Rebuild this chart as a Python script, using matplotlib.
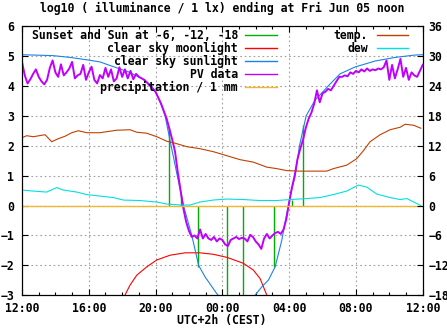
import matplotlib
matplotlib.use("Agg")
import matplotlib.pyplot as plt
import numpy as np

# all times are hours after Thu 12:00 (UTC+2h)
X_TICKS = [0, 4, 8, 12, 16, 20, 24]
X_TICKLABELS = ["12:00", "16:00", "20:00", "00:00", "04:00", "08:00", "12:00"]

# PV sensor, log10(lx), 10 minute samples from 12:00
pv_data = [4.80, 4.35, 4.08, 4.22, 4.40, 4.55, 4.30, 4.15, 4.05, 4.20,
           4.60, 4.85, 4.45, 4.30, 4.72, 4.35, 4.45, 4.58, 4.80, 4.25,
           4.35, 4.40, 4.70, 4.20, 4.45, 4.64, 4.20, 4.08, 4.36,
           4.25, 4.60, 4.30, 4.55, 4.15, 4.25, 4.62, 4.30, 4.55, 4.25,
           4.50, 4.22, 4.40, 4.30, 4.25, 4.20, 4.10, 4.00, 3.90, 3.80,
           3.60, 3.40, 3.15, 2.90, 2.55, 2.20, 1.80, 1.10, 0.50, -0.10,
           -0.55, -0.85, -1.05,
           -1.00, -1.10, -0.80, -1.10, -0.95, -1.10, -1.15, -1.05, -1.20, -1.10,
           -1.15, -1.30, -1.35, -1.15, -1.10, -1.05, -1.12, -1.08, -1.10, -1.20,
           -0.98, -1.05, -1.20, -1.30, -1.45, -1.10, -0.95, -1.10, -1.00, -0.92,
           -0.88, -0.95, -0.80, -0.45,
           0.10, 0.60, 1.00, 1.55, 1.90, 2.20, 2.60, 2.90, 3.10, 3.40,
           3.85, 3.45, 3.75, 3.80, 3.90, 3.85, 4.00, 4.15, 4.30,
           4.30, 4.35, 4.32, 4.45, 4.40, 4.50, 4.45, 4.55, 4.48, 4.58,
           4.50, 4.55, 4.52, 4.58, 4.55, 4.62, 4.85, 4.20, 4.70, 4.25,
           4.55, 4.90, 4.30, 4.60, 4.20, 4.45, 4.35, 4.30, 4.50, 4.70]
pv_hours = np.arange(len(pv_data)) / 6.0

# clear sky sunlight model
sun_hours = [0, 1.86, 2.88, 3.88, 4.67, 5.17, 6.37, 7.17, 7.67, 7.95, 8.25, 8.57,
             8.93, 9.3, 9.67, 10.17, 10.58, 10.96, 11.66, 12.0, 12.81, 13.6,
             13.96, 14.36, 14.76, 15.16, 15.56, 15.86, 16.1, 16.36, 16.62, 17.02,
             17.55, 18.35, 19.05, 19.95, 21.15, 22.35, 23.55, 24.0]
sun_clear = [5.04, 5.01, 4.95, 4.87, 4.80, 4.70, 4.47, 4.25, 4.05, 3.85, 3.50, 3.00,
             2.00, 1.00, 0.00, -1.00, -2.00, -2.38, -2.94, -3.15, -3.40, -3.15,
             -3.00, -2.72, -2.49, -2.05, -1.16, -0.26, 0.40, 1.00, 2.00, 3.00,
             3.52, 4.00, 4.40, 4.63, 4.83, 4.95, 5.03, 5.04]

# clear sky moonlight model
moon_hours = [5.9, 6.17, 6.47, 6.87, 7.47, 8.07, 8.87, 9.77, 10.66, 11.46,
              12.26, 13.26, 13.86, 14.26, 14.66, 14.8]
moon_clear = [-3.3, -2.99, -2.66, -2.33, -2.05, -1.82, -1.66, -1.58, -1.58, -1.63,
              -1.73, -1.93, -2.16, -2.44, -2.99, -3.3]

# sunset / sun at -6, -12, -18 deg, then the same in the morning
event_hours = [8.83, 9.55, 10.56, 12.30, 13.26, 15.12, 16.16, 16.85]
event_level = [2.63, 0.40, -2.05, -3.50, -3.50, -2.05, 0.20, 2.68]

# precipitation / 1 mm
rain_hours = [0, 24]
rain = [0.0, 0.0]

# temperature and dew point, deg C (right axis)
temp_hours = [0, 0.28, 0.68, 1.38, 1.78, 2.17, 2.58, 2.98, 3.37, 3.88, 4.67, 5.67,
              6.47, 6.87, 7.47, 8.07, 8.67, 9.07, 9.87, 10.66, 11.46, 12.26, 13.06,
              13.86, 14.66, 15.26, 15.86, 16.66, 18.26, 18.65, 19.45, 20.05, 20.45,
              20.85, 21.45, 22.05, 22.65, 22.95, 23.45, 23.89]
temp = [13.6, 14.0, 13.8, 14.2, 12.8, 13.4, 13.9, 14.6, 15.0, 14.6, 14.6, 15.1,
        15.2, 14.7, 14.5, 13.8, 12.9, 12.6, 11.8, 11.4, 10.8, 10.0, 9.2,
        8.7, 7.7, 7.4, 7.0, 6.9, 6.9, 7.4, 8.1, 9.4, 11.0,
        12.8, 14.2, 15.2, 15.7, 16.3, 16.1, 15.5]
dew_hours = [0, 0.68, 1.48, 2.08, 2.48, 3.28, 3.88, 4.67, 5.47, 6.07, 7.07, 8.07,
             8.67, 9.57, 10.07, 10.66, 11.46, 12.26, 13.26, 14.26, 15.26, 16.06,
             17.06, 17.86, 18.65, 19.45, 20.15, 20.65, 21.25, 22.05, 22.65, 23.05,
             23.89]
dew = [3.1, 2.9, 2.7, 3.6, 3.1, 2.7, 2.2, 1.9, 1.6, 1.1, 1.0, 0.7,
       0.3, 0.1, 0.1, 0.7, 1.1, 1.3, 1.2, 1.0, 1.0, 1.2,
       1.4, 1.6, 2.2, 2.9, 4.1, 3.7, 2.3, 1.6, 1.2, 1.4, 0.0]

C_EVENT = "#00b000"
C_MOON = "#ff0000"
C_SUN = "#1e82e6"
C_PV = "#c000ff"
C_RAIN = "#f0b830"
C_TEMP = "#c04000"
C_DEW = "#00e0e0"

FONT = dict(family="DejaVu Sans Mono", weight="bold", size=8.3)
LW = 0.8       # about one pixel at 100 dpi
LW_PV = 1.4    # about two pixels

W, H = 447, 335
AX_L, AX_R, AX_T, AX_B = 22, 422.7, 26, 295.3


def ax_frac(x, y):
    return (x - AX_L) / (AX_R - AX_L), (AX_B - y) / (AX_B - AX_T)


fig = plt.figure(figsize=(W / 100, H / 100), dpi=100)
ax = fig.add_axes([AX_L / W, 1 - AX_B / H, (AX_R - AX_L) / W, (AX_B - AX_T) / H])
ax2 = ax.twinx()

ax.vlines(event_hours, 0, event_level, color=C_EVENT, linewidth=1.0)
ax.plot(moon_hours, moon_clear, color=C_MOON, linewidth=LW)
ax.plot(sun_hours, sun_clear, color=C_SUN, linewidth=LW)
ax.plot(pv_hours, pv_data, color=C_PV, linewidth=LW_PV)
ax.plot(rain_hours, rain, color=C_RAIN, linewidth=1.0)
ax2.plot(temp_hours, temp, color=C_TEMP, linewidth=LW)
ax2.plot(dew_hours, dew, color=C_DEW, linewidth=LW)

ax.set_xlim(0, 24)
ax.set_ylim(-3, 6)
ax2.set_ylim(-18, 36)
ax.set_xticks(X_TICKS)
ax.set_xticklabels(X_TICKLABELS)
ax.set_xticks(np.arange(0, 25, 1), minor=True)
ax.set_yticks(np.arange(-3, 7, 1))
ax2.set_yticks(np.arange(-18, 37, 6))
for t in ax.get_xticklabels() + ax.get_yticklabels() + ax2.get_yticklabels():
    t.set_fontfamily(FONT["family"]); t.set_fontweight(FONT["weight"]); t.set_fontsize(FONT["size"])

ax.tick_params(axis="x", which="both", direction="in", top=True, pad=4.5)
ax.tick_params(axis="x", which="major", length=4.5, width=0.8)
ax.tick_params(axis="x", which="minor", length=2.5, width=0.8)
ax.tick_params(axis="y", direction="in", right=False, length=4.5, width=0.8, pad=5.5)
ax2.tick_params(axis="y", direction="in", length=4.5, width=0.8, pad=4)
ax.grid(True, which="major", color="#a0a0a0", linestyle=(0, (1.5, 2.5)), linewidth=0.8)
ax.set_axisbelow(True)
for s in list(ax.spines.values()) + list(ax2.spines.values()):
    s.set_linewidth(0.8)

# gnuplot style key: text right aligned, line sample right of it
left_key = [("Sunset and Sun at -6, -12, -18", C_EVENT),
            ("clear sky moonlight", C_MOON),
            ("clear sky sunlight", C_SUN),
            ("PV data", C_PV),
            ("precipitation / 1 mm", C_RAIN)]
right_key = [("temp.", C_TEMP), ("dew", C_DEW)]
for keys, x_txt, x0, x1 in [(left_key, 238, 245, 276.7), (right_key, 368, 376.7, 408.3)]:
    for k, (label, color) in enumerate(keys):
        y = 35.3 + 13 * k
        tx, ty = ax_frac(x_txt, y)
        ax2.text(tx, ty, label, transform=ax.transAxes, ha="right", va="center", **FONT)
        (lx0, ly), (lx1, _) = ax_frac(x0, y), ax_frac(x1, y)
        ax2.plot([lx0, lx1], [ly, ly], transform=ax.transAxes, color=color, linewidth=1.0)

fig.text(222 / W, 1 - 8 / H, "log10 ( illuminance / 1 lx) ending at Fri Jun 05 noon",
         ha="center", va="center", **FONT)
fig.text(222 / W, 1 - 320.5 / H, "UTC+2h (CEST)", ha="center", va="center", **FONT)

fig.savefig("out.png", dpi=100)
